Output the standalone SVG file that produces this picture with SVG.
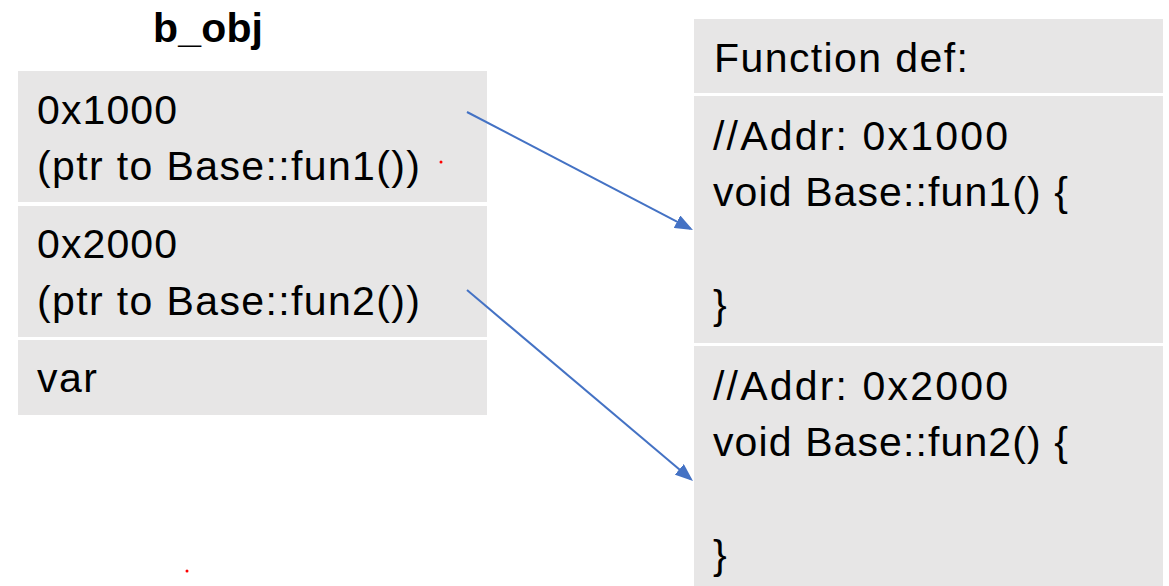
<svg xmlns="http://www.w3.org/2000/svg" width="1169" height="586" viewBox="0 0 1169 586">
  <style>
    .box { fill: #E7E6E6; }
    .t { font-family: "Liberation Sans", Arial, sans-serif; font-size: 41px; fill: #000; }
    .title { font-family: "Liberation Sans", Arial, sans-serif; font-size: 41px; font-weight: bold; fill: #000; }
    .conn { stroke: #4472C4; stroke-width: 2; fill: none; }
  </style>
  <defs>
    <marker id="arrow" markerUnits="userSpaceOnUse" markerWidth="18" markerHeight="14" refX="15" refY="7" orient="auto">
      <path d="M0,0 L18,7 L0,14 z" fill="#4472C4"/>
    </marker>
  </defs>
  <rect width="1169" height="586" fill="#FFFFFF"/>

  <g id="title">
    <text class="title" x="153" y="42" textLength="110">b_obj</text>
  </g>

  <g id="slot1">
    <rect class="box" x="18" y="71" width="469" height="131"/>
    <text class="t" x="37" y="124" textLength="140">0x1000</text>
    <text class="t" x="37" y="180" textLength="383">(ptr to Base::fun1())</text>
  </g>
  <g id="slot2">
    <rect class="box" x="18" y="206" width="469" height="131"/>
    <text class="t" x="37" y="258" textLength="140">0x2000</text>
    <text class="t" x="37" y="315" textLength="383">(ptr to Base::fun2())</text>
  </g>
  <g id="slot3">
    <rect class="box" x="18" y="340" width="469" height="75"/>
    <text class="t" x="37" y="392" textLength="60">var</text>
  </g>

  <g id="funcdef">
    <rect class="box" x="694" y="19" width="469" height="74"/>
    <text class="t" x="714" y="72" textLength="254">Function def:</text>
  </g>
  <g id="fun1">
    <rect class="box" x="694" y="96" width="469" height="247"/>
    <text class="t" x="713" y="150" textLength="295">//Addr: 0x1000</text>
    <text class="t" x="713" y="206" textLength="355">void Base::fun1() {</text>
    <text class="t" x="713" y="319">}</text>
  </g>
  <g id="fun2">
    <rect class="box" x="694" y="346" width="469" height="240"/>
    <text class="t" x="713" y="400" textLength="295">//Addr: 0x2000</text>
    <text class="t" x="713" y="456" textLength="355">void Base::fun2() {</text>
    <text class="t" x="713" y="569">}</text>
  </g>

  <g id="connectors">
    <line class="conn" x1="467" y1="112" x2="690.3" y2="228.6" marker-end="url(#arrow)"/>
    <line class="conn" x1="467" y1="290" x2="690.7" y2="479.1" marker-end="url(#arrow)"/>
  </g>

  <g id="dots">
    <circle cx="441" cy="162" r="1.5" fill="#FF0000"/>
    <circle cx="187" cy="571" r="1.5" fill="#FF0000"/>
  </g>
</svg>
